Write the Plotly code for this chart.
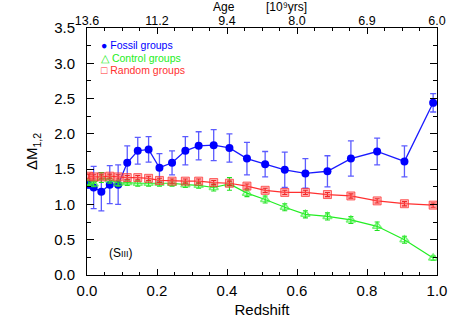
import plotly.graph_objects as go

# ---------------- data ----------------
redshift = [0.005, 0.019, 0.041, 0.065, 0.089, 0.115, 0.145, 0.176, 0.207, 0.243,
            0.281, 0.319, 0.362, 0.407, 0.457, 0.509, 0.565, 0.624, 0.687, 0.754,
            0.829, 0.907, 0.989]

fossil = [1.28, 1.24, 1.18, 1.28, 1.28, 1.59, 1.76, 1.78, 1.52, 1.59,
          1.76, 1.83, 1.84, 1.80, 1.65, 1.57, 1.49, 1.44, 1.47, 1.65,
          1.75, 1.61, 2.44]
fossil_err = [0.05, 0.30, 0.27, 0.27, 0.28, 0.24, 0.19, 0.18, 0.20, 0.17,
              0.20, 0.20, 0.22, 0.20, 0.23, 0.18, 0.25, 0.21, 0.22, 0.25,
              0.19, 0.22, 0.13]

control = [1.31, 1.29, 1.38, 1.35, 1.30, 1.31, 1.30, 1.30, 1.30, 1.30,
           1.28, 1.27, 1.24, 1.29, 1.16, 1.07, 0.96, 0.86, 0.83, 0.78,
           0.69, 0.50, 0.24]
control_err = [0.04, 0.04, 0.07, 0.05, 0.04, 0.04, 0.04, 0.04, 0.04, 0.04,
               0.04, 0.04, 0.05, 0.09, 0.05, 0.05, 0.05, 0.05, 0.05, 0.05,
               0.06, 0.05, 0.03]

random_g = [1.40, 1.39, 1.39, 1.40, 1.39, 1.38, 1.38, 1.37, 1.34, 1.33,
            1.33, 1.33, 1.31, 1.30, 1.26, 1.20, 1.17, 1.17, 1.14, 1.12,
            1.05, 1.01, 0.99]
random_err = [0.03] * 23

x_ticks = [0.0, 0.2, 0.4, 0.6, 0.8, 1.0]
age_labels = ["13.6", "11.2", "9.4", "8.0", "6.9", "6.0"]

FONT = "Liberation Sans, Arial, sans-serif"

fig = go.Figure()

fig.add_trace(go.Scatter(
    x=redshift, y=fossil, mode="lines+markers", name="Fossil groups",
    line=dict(color="#1a1aff", width=1.3),
    marker=dict(symbol="circle", size=8, color="#0000ff"),
    error_y=dict(type="data", array=fossil_err, color="rgba(50,50,255,0.8)",
                 thickness=1.3, width=3),
    showlegend=False))

fig.add_trace(go.Scatter(
    x=redshift, y=control, mode="lines+markers", name="Control groups",
    line=dict(color="#22ee22", width=1.2),
    marker=dict(symbol="triangle-up-open", size=8,
                color="rgba(60,240,60,0.7)", line=dict(width=1.5)),
    error_y=dict(type="data", array=control_err, color="#20e020",
                 thickness=1.1, width=2.5),
    showlegend=False))

fig.add_trace(go.Scatter(
    x=redshift, y=random_g, mode="lines+markers", name="Random groups",
    line=dict(color="#ff3030", width=1.2),
    marker=dict(symbol="square", size=8, color="rgba(255,90,90,0.45)",
                line=dict(color="rgba(255,40,40,0.7)", width=1)),
    error_y=dict(type="data", array=random_err, color="#e00000",
                 thickness=1.1, width=2.5),
    showlegend=False))

# invisible trace to carry the top (age) axis
fig.add_trace(go.Scatter(
    x=redshift, y=fossil, xaxis="x2", mode="markers",
    marker=dict(opacity=0), hoverinfo="skip", showlegend=False))

fig.update_layout(
    width=463, height=331,
    margin=dict(l=87, r=26, t=28, b=56, autoexpand=False),
    paper_bgcolor="white", plot_bgcolor="white",
    font=dict(family=FONT, color="black"),
    xaxis=dict(
        range=[0, 1], tickvals=x_ticks, ticktext=[f"{v:.1f}" for v in x_ticks],
        ticks="inside", ticklen=6, tickcolor="black", tickwidth=1,
        minor=dict(dtick=0.05, ticks="inside", ticklen=3, tickcolor="black"),
        showline=True, linecolor="black", linewidth=1, mirror="ticks",
        showgrid=False, zeroline=False, automargin=False,
        tickfont=dict(size=15), ticklabelstandoff=2,
        title=dict(text="Redshift", font=dict(size=15), standoff=6),
    ),
    xaxis2=dict(
        range=[0, 1], overlaying="x", side="top",
        tickvals=x_ticks, ticktext=age_labels, ticks="",
        showline=False, showgrid=False, zeroline=False, automargin=False,
        tickfont=dict(size=12.5),
    ),
    yaxis=dict(
        range=[0, 3.5], dtick=0.5, tickformat=".1f",
        ticks="inside", ticklen=7, tickcolor="black",
        minor=dict(dtick=0.25, ticks="inside", ticklen=4, tickcolor="black"),
        showline=True, linecolor="black", linewidth=1, mirror="ticks",
        showgrid=False, zeroline=False, automargin=False,
        tickfont=dict(size=15), ticklabelstandoff=8,
        title=dict(text="ΔM<sub>1,2</sub>", font=dict(size=15), standoff=12),
    ),
)

# legend (as text annotations)
legend_items = [("● Fossil groups", "#0000ff"),
                ("△ Control groups", "#22ee22"),
                ("□ Random groups", "#ff3030")]
for i, (txt, col) in enumerate(legend_items):
    fig.add_annotation(xref="paper", yref="paper", x=0.035, y=0.93 - i * 0.05,
                       text=txt, showarrow=False, xanchor="left", yanchor="middle",
                       font=dict(size=10.5, color=col, family=FONT))

fig.add_annotation(xref="paper", yref="paper", x=0.057, y=0.088,
                   text="(S<span style='font-size:9px'>III</span>)", showarrow=False,
                   xanchor="left", yanchor="middle",
                   font=dict(size=12, family=FONT))

fig.add_annotation(xref="paper", yref="paper", x=0.39, y=1.087,
                   text="Age", showarrow=False, xanchor="center", yanchor="middle",
                   font=dict(size=12, family=FONT))
fig.add_annotation(xref="paper", yref="paper", x=0.57, y=1.087,
                   text="[10⁹yrs]", showarrow=False, xanchor="center",
                   yanchor="middle", font=dict(size=12, family=FONT))

fig.write_html("out.html", post_script="document.body.style.margin='0';",
               config={"displayModeBar": False})
